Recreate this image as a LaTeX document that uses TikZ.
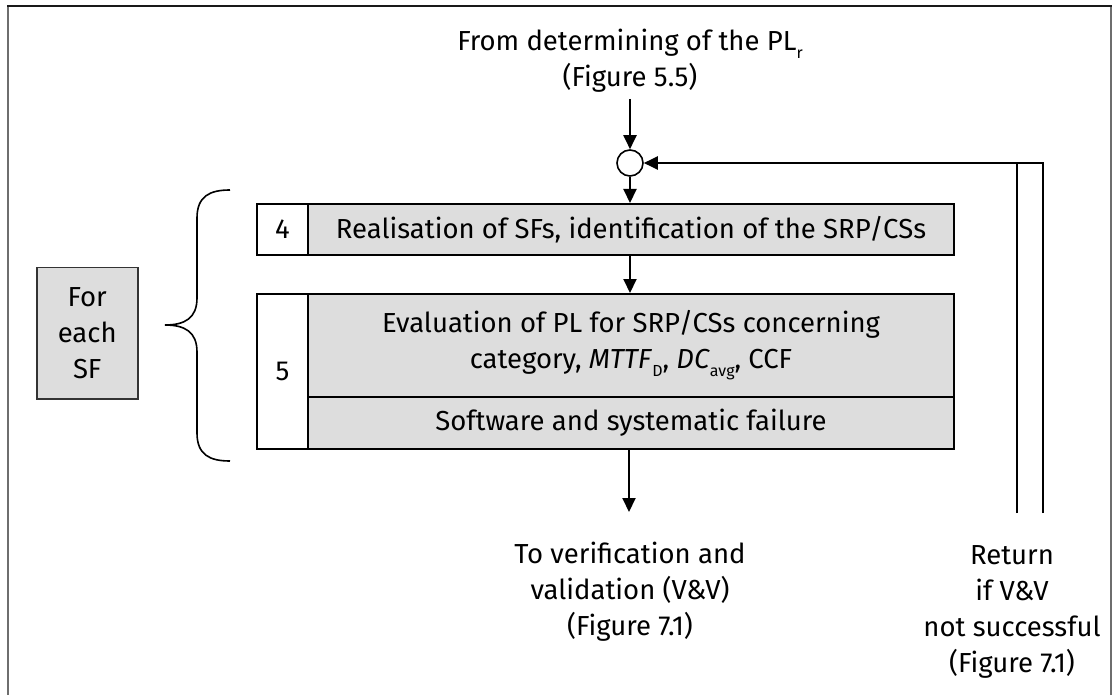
\documentclass[tikz,border=0pt]{standalone}
\usepackage{fontspec}
\setmainfont{Fira Sans}
\usetikzlibrary{arrows.meta}

% low-set subscript as used in the safety-standard notation
\newcommand{\lsub}[1]{\raisebox{-8pt}{\fontsize{16}{16}\selectfont\upshape #1}}

\begin{document}
\begin{tikzpicture}[x=1pt,y=-1pt,
  txt/.style={font=\fontsize{27.5}{36}\selectfont, text=black},
  numbox/.style={draw=black, line width=2pt, fill=white, txt, anchor=north west,
    inner sep=0pt, minimum width=51pt},
  graybox/.style={draw=black, line width=2pt, fill=boxgray, txt, anchor=north west,
    inner sep=0pt, minimum width=646pt, align=center},
  flow/.style={line width=2pt, -{Triangle[length=14pt,width=13pt]}},
  plain/.style={line width=2pt},
]
\definecolor{boxgray}{RGB}{221,221,221}
\definecolor{framegray}{RGB}{110,110,110}

% canvas and open frame
\useasboundingbox (0,0) rectangle (1114,695);
\draw[line width=2pt, framegray] (8,695) -- (8,6);
\draw[line width=2pt, framegray] (1111,6) -- (1111,695);
\draw[line width=2pt, black!90] (7,6) -- (1112,6);

% entry from the previous step
\node[txt, align=center] (src) at (630,61) {From determining of the PL\lsub{r}\\(Figure 5.5)};
\coordinate (srcend) at (630,99);
\node[draw=black, line width=1.6pt, fill=white, circle, minimum size=26pt, inner sep=0pt] (join) at (630,163) {};

% step 4
\node[numbox, minimum height=51pt] (n4) at (256,203) {4};
\node[graybox, minimum height=51pt] (b4) at (307,203) {Realisation of SFs, identification of the SRP/CSs};

% step 5
\node[numbox, minimum height=155pt] (n5) at (256,293) {5};
\node[graybox, minimum height=103pt] (b5a) at (307,293)
  {Evaluation of PL for SRP/CSs concerning\\category, \textit{MTTF}\lsub{D}, \textit{DC}\lsub{avg}, CCF};
\node[graybox, minimum height=52pt] (b5b) at (307,396) {Software and systematic failure};

% loop label and brace
\node[draw=black!80, line width=1.5pt, fill=boxgray, txt, align=center, anchor=north west,
  minimum width=101pt, minimum height=131pt, inner sep=0pt] (each) at (36,267) {For\\each\\SF};
\draw[line width=1.6pt] (230,190) .. controls (210,190) and (197,196) .. (197,218)
  -- (197,298) .. controls (197,318) and (185,325) .. (165,325)
  .. controls (185,325) and (197,332) .. (197,352)
  -- (197,433) .. controls (197,455) and (210,461) .. (230,461);

% flow
\draw[flow] (srcend) -- (join);
\draw[flow] (join) -- (join |- b4.north);
\draw[flow] (b4.south -| join) -- (b5a.north -| join);
\coordinate (outend) at (629,512);
\draw[flow] (b5b.south -| outend) -- (outend);
\node[txt, align=center] (dst) at (630,592) {To verification and\\validation (V\&V)\\(Figure 7.1)};

% return path
\coordinate (ri) at (1017,513);
\coordinate (ro) at (1043,513);
\draw[plain] (ri) -- (ri |- join);
\draw[flow] (ro) -- (ro |- join) -- (join);
\node[txt, align=center] (ret) at (1012,612) {Return\\if V\&V\\not successful\\(Figure 7.1)};
\end{tikzpicture}
\end{document}
